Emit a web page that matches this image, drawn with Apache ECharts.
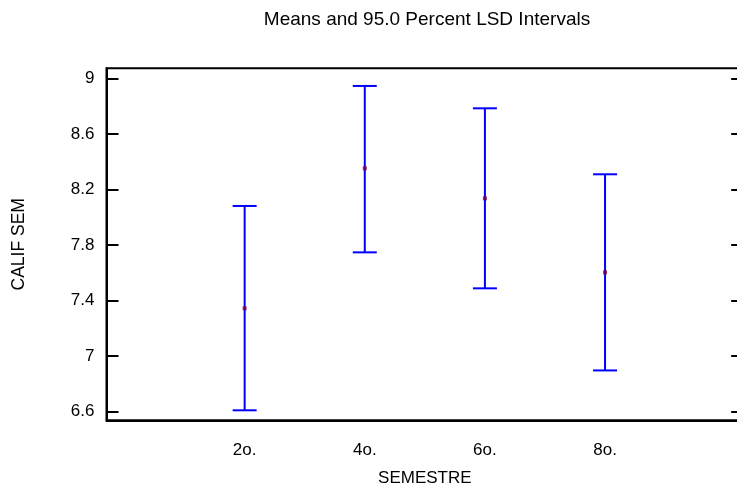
<!DOCTYPE html>
<html>
<head>
<meta charset="utf-8">
<script src="https://cdn.jsdelivr.net/npm/echarts@6/dist/echarts.min.js"></script>
<style>
html,body{margin:0;padding:0;background:#fff;}
#chart{width:737px;height:483px;}
</style>
</head>
<body>
<div id="chart"></div>
<script>
var categories = ['2o.', '4o.', '6o.', '8o.'];
var means = [7.344, 8.352, 8.136, 7.603];
var lower = [6.610, 7.747, 7.488, 6.897];
var upper = [8.081, 8.945, 8.784, 8.309];
var yTicks = [6.6, 7, 7.4, 7.8, 8.2, 8.6, 9];
var xPositions = [1, 2, 3, 4];

var chart = echarts.init(document.getElementById('chart'), null, {renderer: 'canvas'});
var font = 'Liberation Sans, Arial, sans-serif';

var barData = categories.map(function (c, i) {
  return [xPositions[i], lower[i], upper[i]];
});
var meanData = categories.map(function (c, i) {
  return [xPositions[i], means[i]];
});

var option = {
  backgroundColor: '#fff',
  animation: false,
  title: {
    text: 'Means and 95.0 Percent LSD Intervals',
    left: 422, top: 5, textAlign: 'center',
    textStyle: {fontFamily: font, fontSize: 19, fontWeight: 'normal', color: '#000'}
  },
  grid: {
    left: 106.5, right: -6.2, top: 68.3, bottom: 62.7,
    outerBoundsMode: 'none', containLabel: false,
    show: true, borderColor: '#000', borderWidth: 2, backgroundColor: 'transparent'
  },
  xAxis: {
    type: 'value', min: -0.15, max: 5.15,
    name: 'SEMESTRE', nameLocation: 'middle', nameGap: 50,
    nameTextStyle: {fontFamily: font, fontSize: 17, color: '#000'},
    axisLine: {show: true, onZero: false, lineStyle: {color: '#000', width: 2}},
    axisTick: {show: false},
    splitLine: {show: false},
    axisLabel: {
      customValues: xPositions,
      fontFamily: font, fontSize: 17, color: '#000', margin: 22,
      formatter: function (v) {
        var i = xPositions.indexOf(v);
        return i >= 0 ? categories[i] : '';
      }
    }
  },
  yAxis: [{
    type: 'value', min: 6.538, max: 9.072,
    name: 'CALIF SEM', nameLocation: 'middle', nameGap: 78,
    nameTextStyle: {fontFamily: font, fontSize: 17.5, color: '#000'},
    axisLine: {show: true, onZero: false, lineStyle: {color: '#000', width: 2}},
    axisTick: {show: true, inside: true, length: 12, customValues: yTicks, lineStyle: {color: '#000', width: 2}},
    splitLine: {show: false},
    axisLabel: {customValues: yTicks, fontFamily: font, fontSize: 17, color: '#000', margin: 12}
  }, {
    type: 'value', min: 6.538, max: 9.072, position: 'right',
    axisLine: {show: true, onZero: false, lineStyle: {color: '#000', width: 2}},
    axisTick: {show: true, inside: true, length: 12, customValues: yTicks, lineStyle: {color: '#000', width: 2}},
    splitLine: {show: false},
    axisLabel: {show: false}
  }],
  series: [{
    type: 'custom',
    data: barData,
    renderItem: function (params, api) {
      var x = api.value(0);
      var lo = api.coord([x, api.value(1)]);
      var hi = api.coord([x, api.value(2)]);
      var hw = 12;
      var style = {stroke: '#0000ff', lineWidth: 2};
      return {
        type: 'group',
        children: [
          {type: 'line', shape: {x1: lo[0], y1: lo[1], x2: hi[0], y2: hi[1]}, style: style},
          {type: 'line', shape: {x1: lo[0] - hw, y1: lo[1], x2: lo[0] + hw, y2: lo[1]}, style: style},
          {type: 'line', shape: {x1: hi[0] - hw, y1: hi[1], x2: hi[0] + hw, y2: hi[1]}, style: style}
        ]
      };
    },
    encode: {x: 0, y: [1, 2]},
    clip: false,
    z: 2
  }, {
    type: 'scatter',
    data: meanData,
    symbol: 'rect',
    symbolSize: 4,
    itemStyle: {color: '#800040'},
    z: 3
  }]
};
chart.setOption(option);
</script>
</body>
</html>
